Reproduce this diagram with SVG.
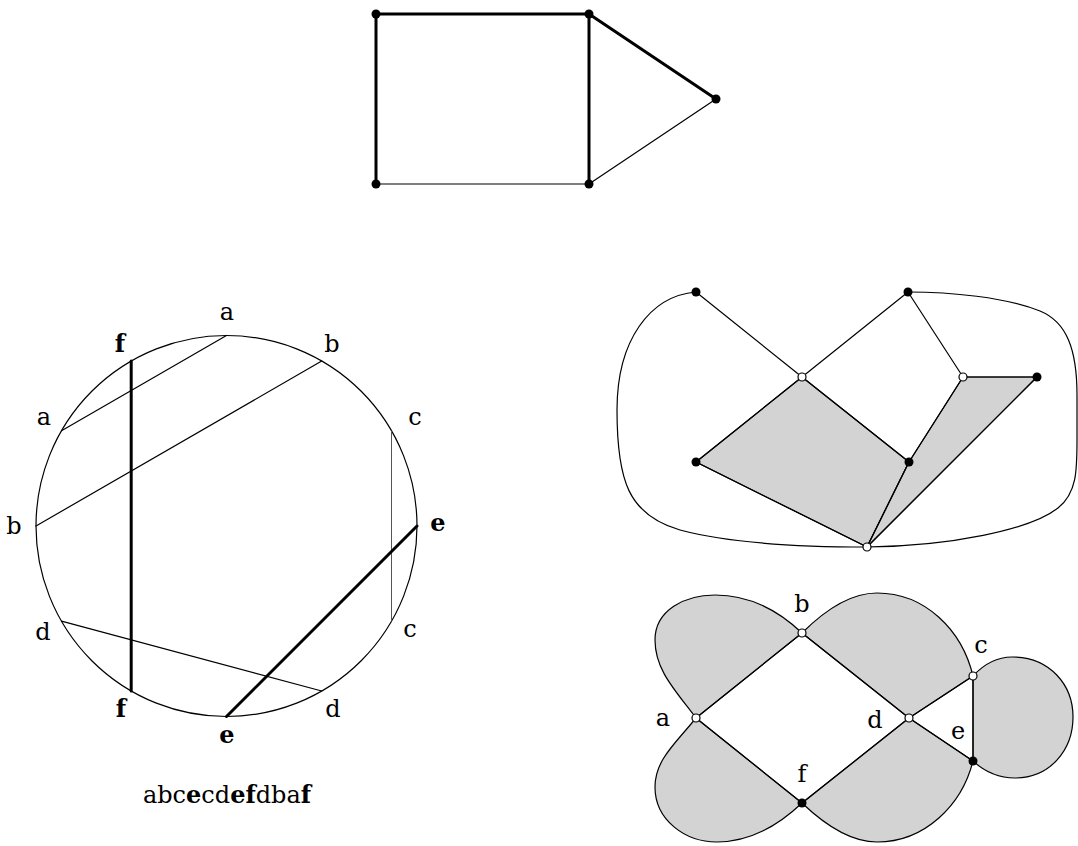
<svg xmlns="http://www.w3.org/2000/svg" width="1078" height="846" viewBox="0 0 1078 846">
<style>
.thin{stroke:#000;stroke-width:1.2;fill:none;stroke-linecap:round}
.bold{stroke:#000;stroke-width:3;fill:none;stroke-linecap:round}
.gray{stroke:#555;stroke-width:1;fill:none}
.fill{fill:#d3d3d3;stroke:#000;stroke-width:1.2;stroke-linejoin:round}
.bk{fill:#000}
.wh{fill:#fff;stroke:#000;stroke-width:1.2}
text{font-family:"DejaVu Serif","Liberation Serif",serif;font-size:24px;text-anchor:middle;fill:#000}
.b{font-weight:bold}
</style>
<rect width="1078" height="846" fill="#fff"/>

<!-- Top graph -->
<g id="connectors-top">
<line class="bold" x1="376" y1="14" x2="589" y2="14"/>
<line class="bold" x1="376" y1="14" x2="376" y2="184"/>
<line class="bold" x1="589" y1="14" x2="589" y2="184"/>
<line class="bold" x1="589" y1="14" x2="716" y2="99"/>
<line class="thin" x1="376" y1="184" x2="589" y2="184"/>
<line class="thin" x1="589" y1="184" x2="716" y2="99"/>
</g>
<g id="t1"><circle class="bk" cx="376" cy="14" r="4.5"/></g>
<g id="t2"><circle class="bk" cx="589" cy="14" r="4.5"/></g>
<g id="t3"><circle class="bk" cx="716" cy="99" r="4.5"/></g>
<g id="t4"><circle class="bk" cx="376" cy="184" r="4.5"/></g>
<g id="t5"><circle class="bk" cx="589" cy="184" r="4.5"/></g>

<!-- Chord diagram -->
<g id="chord-circle"><circle class="thin" cx="226.5" cy="526" r="190.5"/></g>
<g id="connectors-chords">
<line class="thin" x1="226.5" y1="335.5" x2="61.5" y2="430.8"/>
<line class="thin" x1="321.7" y1="361" x2="36" y2="526"/>
<line class="bold" x1="131.2" y1="361" x2="131.2" y2="691"/>
<line class="gray" x1="391.5" y1="430.8" x2="391.5" y2="621.2"/>
<line class="bold" x1="417" y1="526" x2="226.5" y2="716.5"/>
<line class="thin" x1="61.5" y1="621.2" x2="321.7" y2="691"/>
</g>
<g id="chord-labels">
<text x="227" y="320">a</text>
<text x="120" y="352" class="b">f</text>
<text x="332" y="352">b</text>
<text x="44" y="425">a</text>
<text x="415" y="425">c</text>
<text x="14" y="534">b</text>
<text x="438" y="531" class="b">e</text>
<text x="43" y="640">d</text>
<text x="410" y="637">c</text>
<text x="121" y="717" class="b">f</text>
<text x="227" y="743" class="b">e</text>
<text x="333" y="717">d</text>
</g>
<g id="word"><text x="227" y="803">abc<tspan class="b">e</tspan>cd<tspan class="b">ef</tspan>dba<tspan class="b">f</tspan></text></g>

<!-- Top-right diagram -->
<g id="faces-tr">
<polygon class="fill" points="802,377 909,462 867,547 696,462"/>
<polygon class="fill" points="963,377 1037,377 867,547 909,462"/>
</g>
<g id="connectors-tr">
<path class="thin" d="M696,292 C650,296 617,340 617,410 C617,480 628,515 680,530 C740,546 820,547 867,547 C950,546 1030,530 1058,508 C1077,493 1077,470 1077,440 L1077,395 C1077,350 1067,322 1040,311 C1005,297 950,292 908,292"/>
<line class="thin" x1="696" y1="292" x2="802" y2="377"/>
<line class="thin" x1="802" y1="377" x2="908" y2="292"/>
<line class="thin" x1="908" y1="292" x2="963" y2="377"/>
<line class="thin" x1="963" y1="377" x2="1037" y2="377"/>
<line class="thin" x1="802" y1="377" x2="696" y2="462"/>
<line class="thin" x1="802" y1="377" x2="909" y2="462"/>
<line class="thin" x1="696" y1="462" x2="867" y2="547"/>
<line class="thin" x1="909" y1="462" x2="867" y2="547"/>
<line class="thin" x1="909" y1="462" x2="963" y2="377"/>
<line class="thin" x1="1037" y1="377" x2="867" y2="547"/>
</g>
<g id="r1"><circle class="bk" cx="696" cy="292" r="4.5"/></g>
<g id="r2"><circle class="bk" cx="908" cy="292" r="4.5"/></g>
<g id="r3"><circle class="wh" cx="802" cy="377" r="4"/></g>
<g id="r4"><circle class="wh" cx="963" cy="377" r="4"/></g>
<g id="r5"><circle class="bk" cx="1037" cy="377" r="4.5"/></g>
<g id="r6"><circle class="bk" cx="696" cy="462" r="4.5"/></g>
<g id="r7"><circle class="bk" cx="909" cy="462" r="4.5"/></g>
<g id="r8"><circle class="wh" cx="867" cy="547" r="4"/></g>

<!-- Bottom-right diagram -->
<g id="lobes">
<path class="fill" d="M696,718 C675,690 655,670 655,640 C655,610 685,595 715,595 C750,595 780,612 802,633 Z"/>
<path class="fill" d="M696,718 C675,744 655,760 655,787 C655,820 685,842 717,842 C752,842 782,822 802,803 Z"/>
<path class="fill" d="M802,633 C825,610 850,593 877,593 C925,593 962,630 973,676 L909,718 Z"/>
<path class="fill" d="M802,803 C825,825 850,842 877,842 C925,842 962,805 973,761 L909,718 Z"/>
<path class="fill" d="M973,676 C985,663 998,657 1012,657 C1050,657 1073,685 1073,717 C1073,750 1050,778 1015,778 C1000,778 985,772 973,761 Z"/>
</g>
<g id="connectors-br">
<line class="thin" x1="696" y1="718" x2="802" y2="633"/>
<line class="thin" x1="802" y1="633" x2="909" y2="718"/>
<line class="thin" x1="696" y1="718" x2="802" y2="803"/>
<line class="thin" x1="802" y1="803" x2="909" y2="718"/>
<line class="thin" x1="909" y1="718" x2="973" y2="676"/>
<line class="thin" x1="909" y1="718" x2="973" y2="761"/>
<line class="thin" x1="973" y1="676" x2="973" y2="761"/>
</g>
<g id="node-a"><circle class="wh" cx="696" cy="718" r="4"/><text x="663" y="726">a</text></g>
<g id="node-b"><circle class="wh" cx="802" cy="633" r="4"/><text x="802" y="612">b</text></g>
<g id="node-c"><circle class="wh" cx="973" cy="676" r="4"/><text x="981" y="653">c</text></g>
<g id="node-d"><circle class="wh" cx="909" cy="718" r="4"/><text x="875" y="728">d</text></g>
<g id="node-e"><circle class="bk" cx="973" cy="761" r="4.5"/><text x="958" y="739">e</text></g>
<g id="node-f"><circle class="bk" cx="802" cy="803" r="4.5"/><text x="802" y="782">f</text></g>
</svg>
